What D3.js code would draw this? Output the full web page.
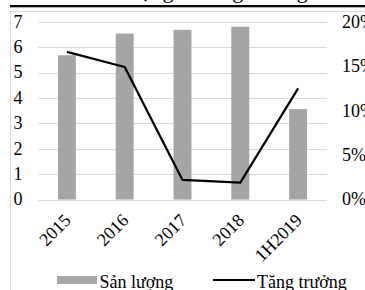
<!DOCTYPE html>
<html>
<head>
<meta charset="utf-8">
<script src="https://cdn.jsdelivr.net/npm/d3@7"></script>
<style>
  html, body { margin: 0; padding: 0; background: #ffffff; overflow: hidden; }
  svg { display: block; font-family: "Liberation Serif", "DejaVu Serif", serif; }
</style>
</head>
<body>
<div id="chart"></div>
<script>
    const title = "Sản lượng và tăng trưởng";
    const categories = ["2015", "2016", "2017", "2018", "1H2019"];
    const output = [5.68, 6.53, 6.68, 6.8, 3.56];
    const growth = [0.166, 0.149, 0.022, 0.019, 0.125];
    const leftTicks = [0, 1, 2, 3, 4, 5, 6, 7];
    const rightTicks = [0, 0.05, 0.1, 0.15, 0.2];
    const seriesNames = ["Sản lượng", "Tăng trưởng"];

    (function () {
        "use strict";

        const width = 365;
        const height = 290;
        const plot = { left: 38, right: 327, top: 21.7, bottom: 199.5 };

        const svg = d3.select("#chart")
            .append("svg")
            .attr("width", width)
            .attr("height", height);

        // title sits mostly above the visible area, as in the source image
        svg.append("text")
            .attr("x", 195.5)
            .attr("y", -1.8)
            .attr("text-anchor", "middle")
            .style("font-size", "22px")
            .attr("fill", "#000")
            .text(title);

        svg.append("rect")
            .attr("x", 10)
            .attr("y", 5)
            .attr("width", width - 10)
            .attr("height", 2.3)
            .attr("fill", "#000");

        svg.append("rect")
            .attr("x", 10.5)
            .attr("y", 11.5)
            .attr("width", 400)
            .attr("height", 320)
            .attr("fill", "none")
            .attr("stroke", "#d9d9d9");

        const x = d3.scaleBand()
            .domain(categories)
            .range([plot.left, plot.right])
            .paddingInner(0.69)
            .paddingOuter(0.345);

        const yLeft = d3.scaleLinear().domain([0, 7]).range([plot.bottom, plot.top]);
        const yRight = d3.scaleLinear().domain([0, 0.2]).range([plot.bottom, plot.top]);

        const grid = svg.append("g");
        grid.selectAll("line")
            .data(leftTicks)
            .join("line")
            .attr("x1", plot.left)
            .attr("x2", plot.right)
            .attr("y1", (d) => Math.round(yLeft(d)) + 0.5)
            .attr("y2", (d) => Math.round(yLeft(d)) + 0.5)
            .attr("stroke", "#d9d9d9")
            .attr("stroke-width", 1);

        svg.append("g")
            .selectAll("text")
            .data(leftTicks)
            .join("text")
            .attr("x", 22.5)
            .attr("y", (d) => yLeft(d))
            .attr("dy", "0.33em")
            .attr("text-anchor", "end")
            .style("font-size", "18px")
            .text((d) => d);

        svg.append("g")
            .selectAll("text")
            .data(rightTicks)
            .join("text")
            .attr("x", 342)
            .attr("y", (d) => yRight(d))
            .attr("dy", "0.33em")
            .attr("text-anchor", "start")
            .style("font-size", "18px")
            .text((d) => d3.format(".0%")(d));

        svg.append("g")
            .selectAll("rect")
            .data(output)
            .join("rect")
            .attr("x", (d, i) => x(categories[i]))
            .attr("y", (d) => yLeft(d))
            .attr("width", x.bandwidth())
            .attr("height", (d) => yLeft(0) - yLeft(d))
            .attr("fill", "#a5a5a5");

        const line = d3.line()
            .x((d, i) => x(categories[i]) + x.bandwidth() / 2)
            .y((d) => yRight(d));

        svg.append("path")
            .datum(growth)
            .attr("d", line)
            .attr("fill", "none")
            .attr("stroke", "#000")
            .attr("stroke-width", 2.2)
            .attr("stroke-linejoin", "round");

        svg.append("g")
            .selectAll("text")
            .data(categories)
            .join("text")
            .attr("transform", (d) => `translate(${x(d) + x.bandwidth() / 2 + 5},${plot.bottom + 22}) rotate(-45)`)
            .attr("text-anchor", "end")
            .style("font-size", "18px")
            .text((d) => d);

        const legend = svg.append("g");
        legend.append("rect")
            .attr("x", 57)
            .attr("y", 276)
            .attr("width", 40)
            .attr("height", 8)
            .attr("fill", "#a5a5a5");
        legend.append("text")
            .attr("x", 99.5)
            .attr("y", 287.5)
            .style("font-size", "18px")
            .text(seriesNames[0]);
        legend.append("line")
            .attr("x1", 213)
            .attr("x2", 255)
            .attr("y1", 280)
            .attr("y2", 280)
            .attr("stroke", "#000")
            .attr("stroke-width", 2.2);
        legend.append("text")
            .attr("x", 257)
            .attr("y", 287.5)
            .style("font-size", "18px")
            .text(seriesNames[1]);
    })();
</script>
</body>
</html>
